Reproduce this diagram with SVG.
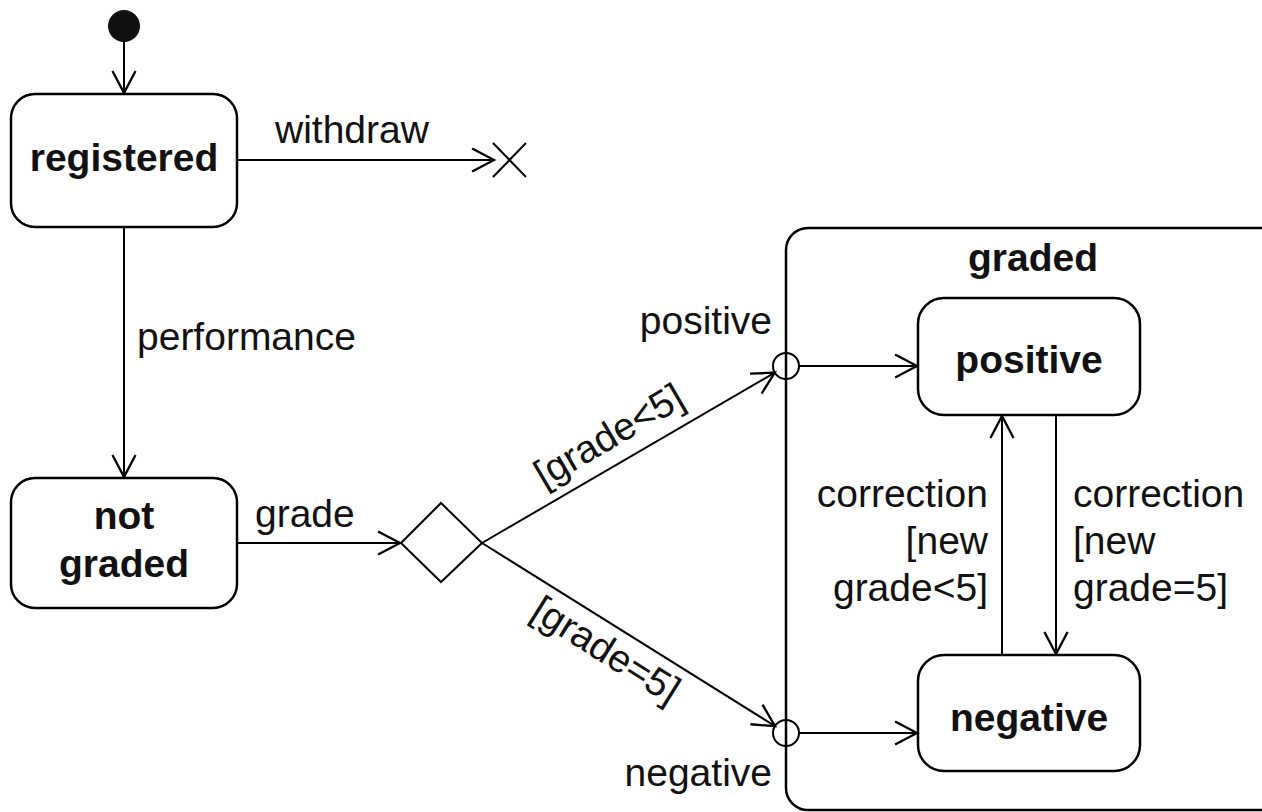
<svg xmlns="http://www.w3.org/2000/svg" width="1262" height="812" viewBox="0 0 1262 812">
  <defs>
    <marker id="open" markerUnits="userSpaceOnUse" markerWidth="30" markerHeight="30" viewBox="-22 -12 26 24" refX="0" refY="0" orient="auto">
      <path d="M-19,-10 L0,0 L-19,10" fill="none" stroke="#000" stroke-width="2"/>
    </marker>
  </defs>
  <style>
    .box { fill: #fff; stroke: #000; stroke-width: 2.5; }
    .ln { fill: none; stroke: #000; stroke-width: 2; }
    .arr { fill: none; stroke: #000; stroke-width: 2; marker-end: url(#open); }
    .t { font-family: "Liberation Sans", Arial, sans-serif; font-size: 39px; fill: #111; }
    .b { font-weight: bold; }
    .c { text-anchor: middle; }
    .e { text-anchor: end; }
  </style>
  <rect width="1262" height="812" fill="#fff"/>

  <g id="graded">
    <rect class="box" x="786" y="228" width="500" height="582" rx="22"/>
    <text class="t b c" x="1033" y="271">graded</text>
  </g>

  <g id="initial">
    <circle cx="124" cy="26" r="16" fill="#111"/>
  </g>

  <g id="registered">
    <rect class="box" x="11" y="94" width="226" height="133" rx="24"/>
    <text class="t b c" x="124" y="171">registered</text>
  </g>

  <g id="terminate">
    <path class="ln" d="M493,143 L526,177 M493,177 L526,143"/>
  </g>

  <g id="notgraded">
    <rect class="box" x="11" y="478" width="226" height="130" rx="24"/>
    <text class="t b c" x="124" y="529">not</text>
    <text class="t b c" x="124" y="577">graded</text>
  </g>

  <g id="decision">
    <path class="ln" d="M401,543 L441,503 L482,543 L441,582 Z" fill="#fff"/>
  </g>

  <g id="entryPositive">
    <circle class="ln" cx="786" cy="366" r="13" fill="#fff"/>
  </g>
  <g id="entryNegative">
    <circle class="ln" cx="786" cy="733" r="13" fill="#fff"/>
  </g>

  <g id="positive">
    <rect class="box" x="918" y="298" width="222" height="117" rx="26"/>
    <text class="t b c" x="1029" y="373">positive</text>
  </g>

  <g id="negative">
    <rect class="box" x="918" y="655" width="222" height="116" rx="26"/>
    <text class="t b c" x="1029" y="731">negative</text>
  </g>

  <g id="connectors">
    <line class="arr" x1="124" y1="42" x2="124" y2="93"/>
    <line class="arr" x1="237" y1="160" x2="494" y2="160"/>
    <text class="t" x="275" y="143">withdraw</text>
    <line class="arr" x1="124" y1="227" x2="124" y2="477"/>
    <text class="t" x="137" y="350">performance</text>
    <line class="arr" x1="237" y1="543" x2="400" y2="543"/>
    <text class="t" x="255" y="527">grade</text>
    <line class="arr" x1="482" y1="543" x2="774.8" y2="372.6"/>
    <text class="t c" transform="translate(623.6,460.6) rotate(-30.3)" x="0" y="-16">[grade&lt;5]</text>
    <line class="arr" x1="482" y1="543" x2="775" y2="726.1"/>
    <text class="t c" transform="translate(619.3,628.8) rotate(32.1)" x="0" y="38">[grade=5]</text>
    <text class="t e" x="772" y="334">positive</text>
    <text class="t e" x="772" y="786">negative</text>
    <line class="arr" x1="799" y1="366" x2="917" y2="366"/>
    <line class="arr" x1="799" y1="733" x2="917" y2="733"/>
    <line class="arr" x1="1002" y1="655" x2="1002" y2="416"/>
    <line class="arr" x1="1056" y1="415" x2="1056" y2="654"/>
    <text class="t e" x="988" y="507">correction</text>
    <text class="t e" x="988" y="554">[new</text>
    <text class="t e" x="988" y="601">grade&lt;5]</text>
    <text class="t" x="1073" y="507">correction</text>
    <text class="t" x="1073" y="554">[new</text>
    <text class="t" x="1073" y="601">grade=5]</text>
  </g>
</svg>
